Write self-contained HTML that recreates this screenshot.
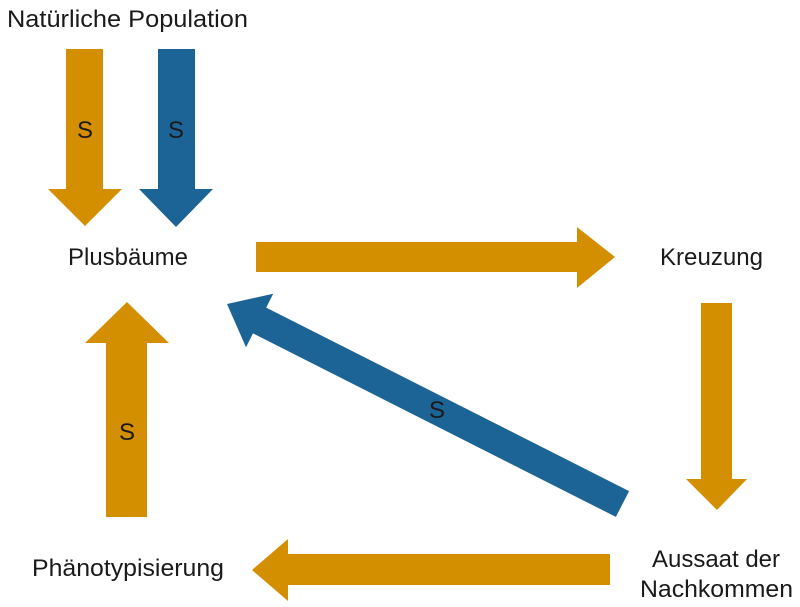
<!DOCTYPE html>
<html>
<head>
<meta charset="utf-8">
<style>
  html, body { margin: 0; padding: 0; background: #ffffff; }
  svg { display: block; }
  text { font-family: "Liberation Sans", "DejaVu Sans", sans-serif; fill: #1a1a1a; }
</style>
</head>
<body>
<svg width="800" height="607" viewBox="0 0 800 607" xmlns="http://www.w3.org/2000/svg">
  <rect x="0" y="0" width="800" height="607" fill="#ffffff"/>

  <!-- Top orange down arrow -->
  <polygon points="66,49 103,49 103,189 122,189 85,226 48,189 66,189" fill="#D38F00"/>
  <!-- Top blue down arrow -->
  <polygon points="158,49 195,49 195,189 213,189 176,227 139,189 158,189" fill="#1D6496"/>

  <!-- Right arrow Plusbäume -> Kreuzung -->
  <polygon points="256,242 577,242 577,227 615,257 577,288 577,272 256,272" fill="#D38F00"/>

  <!-- Down arrow Kreuzung -> Aussaat -->
  <polygon points="701,303 732,303 732,479 747,479 717,510 686,479 701,479" fill="#D38F00"/>

  <!-- Left arrow Aussaat -> Phänotypisierung -->
  <polygon points="610,554 610,585 288,585 288,601 252,570 288,539 288,554" fill="#D38F00"/>

  <!-- Up arrow Phänotypisierung -> Plusbäume -->
  <polygon points="106,517 147,517 147,343 169,343 127,302 85,343 106,343" fill="#D38F00"/>

  <!-- Blue diagonal arrow Aussaat -> Plusbäume -->
  <polygon points="227,304 273.2,293.7 266.2,307.6 629.1,491.1 615.9,516.9 253,333.4 246,347.3" fill="#1D6496"/>

  <!-- Labels -->
  <text x="7" y="27" font-size="24" textLength="241" lengthAdjust="spacingAndGlyphs">Natürliche Population</text>
  <text x="68" y="265" font-size="24" textLength="120" lengthAdjust="spacingAndGlyphs">Plusbäume</text>
  <text x="660" y="265" font-size="24" textLength="103" lengthAdjust="spacingAndGlyphs">Kreuzung</text>
  <text x="32" y="576" font-size="24" textLength="192" lengthAdjust="spacingAndGlyphs">Phänotypisierung</text>
  <text x="652" y="567" font-size="24" textLength="128" lengthAdjust="spacingAndGlyphs">Aussaat der</text>
  <text x="640" y="597" font-size="24" textLength="153" lengthAdjust="spacingAndGlyphs">Nachkommen</text>

  <!-- S labels -->
  <text x="85" y="138" font-size="24" text-anchor="middle">S</text>
  <text x="176" y="138" font-size="24" text-anchor="middle">S</text>
  <text x="127" y="440" font-size="24" text-anchor="middle">S</text>
  <text x="437" y="418" font-size="24" text-anchor="middle">S</text>
</svg>
</body>
</html>
